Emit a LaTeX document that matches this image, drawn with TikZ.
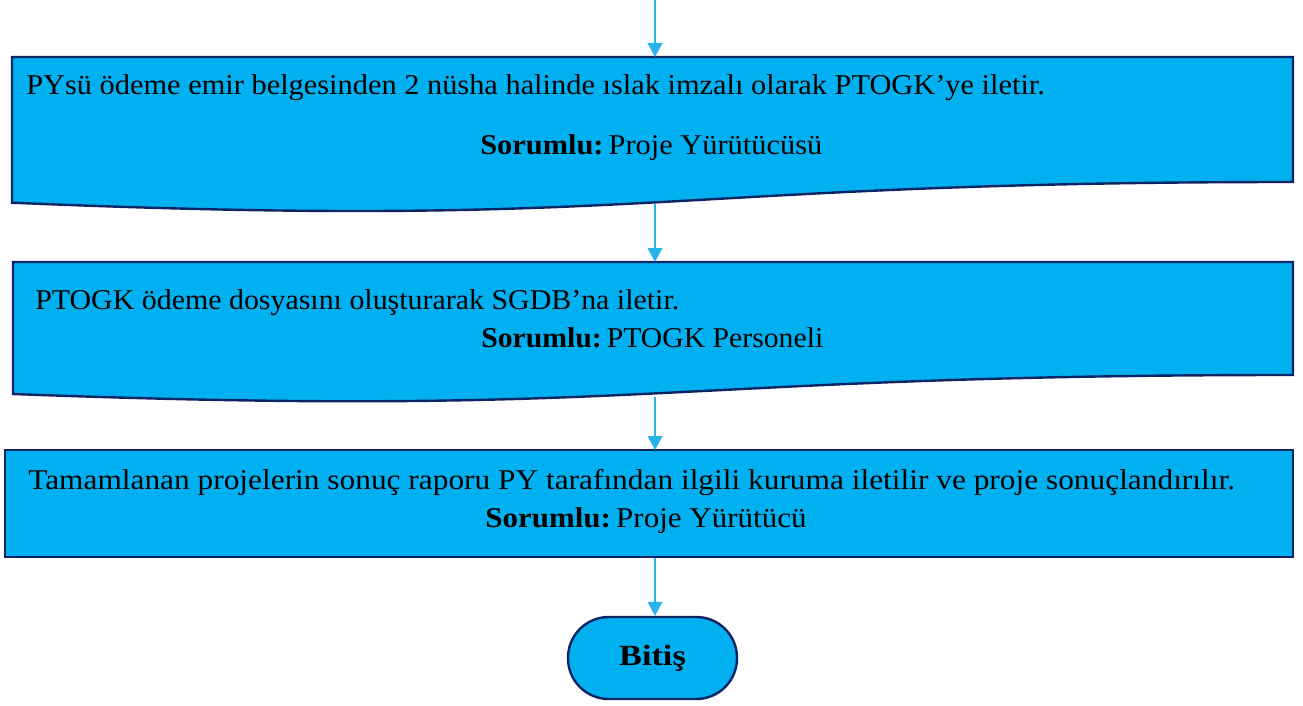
\documentclass[tikz,border=0pt]{standalone}
\usepackage{fontspec}
\setmainfont{Liberation Serif}
\usepackage{graphicx}
\usetikzlibrary{arrows.meta}
\definecolor{boxblue}{RGB}{0,176,240}
\definecolor{navy}{RGB}{10,36,100}
\definecolor{arrowblue}{RGB}{40,180,234}
\tikzset{
  docshape/.style={fill=boxblue, draw=navy, line width=1.8pt, line join=miter},
  arr/.style={draw=arrowblue, line width=1.2pt, -{Triangle[width=11pt,length=10.5pt]}},
  txt/.style={inner sep=0pt, anchor=base west, font=\fontsize{21.5}{25}\selectfont},
  term/.style={fill=boxblue, draw=navy, line width=1.8pt, rounded corners=30.5pt,
    minimum width=126.75pt, minimum height=61.5pt, inner sep=0pt,
    font=\fontsize{22}{26}\selectfont\bfseries},
}
\begin{document}
\begin{tikzpicture}[x=0.75pt, y=-0.75pt]
\useasboundingbox (0,0) rectangle (1303,706);
% box 1 (document shape)
\draw[docshape] (12,57) -- (1293,57) -- (1293,182)
  .. controls (652.5,182) and (652.5,229.8) .. (12,202.7) -- cycle;
% box 2 (document shape)
\draw[docshape] (13,262) -- (1293,262) -- (1293,375)
  .. controls (653,375) and (653,418) .. (13,394) -- cycle;
% box 3 (process)
\draw[docshape] (5,450) rectangle (1293,557);
% texts
\node[txt] (t1a) at (26,95) {\resizebox{764pt}{\height}{PYsü ödeme emir belgesinden 2 nüsha halinde ıslak imzalı olarak PTOGK’ye iletir.}};
\node[txt] (t1b) at (480,155) {\resizebox{256.5pt}{\height}{\textbf{Sorumlu:}\,Proje Yürütücüsü}};
\node[txt] (t2a) at (35,309) {\resizebox{483pt}{\height}{PTOGK ödeme dosyasını oluşturarak SGDB’na iletir.}};
\node[txt] (t2b) at (481,347) {\resizebox{256.5pt}{\height}{\textbf{Sorumlu:}\,PTOGK Personeli}};
\node[txt] (t3a) at (28,489) {\resizebox{905pt}{\height}{Tamamlanan projelerin sonuç raporu PY tarafından ilgili kuruma iletilir ve proje sonuçlandırılır.}};
\node[txt] (t3b) at (485,527) {\resizebox{241pt}{\height}{\textbf{Sorumlu:}\,Proje Yürütücü}};
% terminal
\node[term] (bitis) at (652.5,658) {\resizebox{50pt}{\height}{Bitiş}};
% connector anchor points on the shapes
\coordinate (start) at (655,0);
\coordinate (b1top) at (655,57);
\coordinate (b1bot) at (655,204);
\coordinate (b2top) at (655,262);
\coordinate (b2bot) at (655,397);
\coordinate (b3top) at (655,450);
\coordinate (b3bot) at (655,558);
\coordinate (bittop) at (bitis.north -| b3bot);
\draw[arr] (start) -- (b1top);
\draw[arr] (b1bot) -- (b2top);
\draw[arr] (b2bot) -- (b3top);
\draw[arr] (b3bot) -- (bittop);
\end{tikzpicture}
\end{document}
